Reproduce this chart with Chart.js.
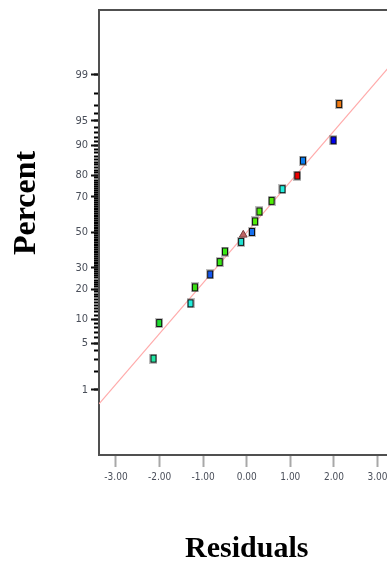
<!DOCTYPE html>
<html>
<head>
<meta charset="utf-8">
<script src="https://cdn.jsdelivr.net/npm/chart.js@4/dist/chart.umd.min.js"></script>
<style>
  html, body { margin: 0; padding: 0; background: #fff; overflow: hidden; }
  #wrap { width: 387px; height: 567px; overflow: hidden; }
</style>
</head>
<body>
<div id="wrap"><canvas id="myChart" width="400" height="567"></canvas></div>
<script>
// residuals vs normal % probability
const residuals = [-2.14, -2.01, -1.29, -1.19, -0.84, -0.62, -0.50, -0.13, -0.08, 0.12, 0.19, 0.29, 0.57, 0.82, 1.16, 1.29, 1.99, 2.12];
const percents = [3.1, 9.0, 14.7, 20.8, 26.7, 33.0, 38.8, 44.4, 48.5, 50.2, 56.4, 62.1, 67.9, 73.8, 79.9, 85.5, 91.3, 97.1];
const pointColors = ['#22e6a4', '#1edc30', '#22eedd', '#3ade14', '#1456ee', '#38e814', '#38e814', '#22e2d2', '#c06464',
  '#1670ee', '#50ee08', '#50ee08', '#50ee08', '#22eedd', '#ee0000', '#0a7cf0', '#0000ee', '#f07a12'];

// fitted normal line, its two ends
const fitResiduals = [-3.39, 3.39];
const fitPercents = [0.56, 99.44];

const xTicks = [-3, -2, -1, 0, 1, 2, 3];
const yTickLabels = [1, 5, 10, 20, 30, 50, 70, 80, 90, 95, 99];
const yMinorTicks = [];
for (let p = 1; p <= 99; p++) yMinorTicks.push(p);

// inverse normal cdf (Acklam)
const probit = (p) => {
  const a = [-39.69683028665376, 220.9460984245205, -275.9285104469687, 138.357751867269, -30.66479806614716, 2.506628277459239];
  const b = [-54.47609879822406, 161.5858368580409, -155.6989798598866, 66.80131188771972, -13.28068155288572];
  const c = [-0.007784894002430293, -0.3223964580411365, -2.400758277161838, -2.549732539343734, 4.374664141464968, 2.938163982698783];
  const d = [0.007784695709041462, 0.3224671290700398, 2.445134137142996, 3.754408661907416];
  const pl = 0.02425;
  let q, r;
  if (p < pl) {
    q = Math.sqrt(-2 * Math.log(p));
    return (((((c[0]*q+c[1])*q+c[2])*q+c[3])*q+c[4])*q+c[5]) / ((((d[0]*q+d[1])*q+d[2])*q+d[3])*q+1);
  }
  if (p <= 1 - pl) {
    q = p - 0.5; r = q * q;
    return (((((a[0]*r+a[1])*r+a[2])*r+a[3])*r+a[4])*r+a[5])*q / (((((b[0]*r+b[1])*r+b[2])*r+b[3])*r+b[4])*r+1);
  }
  q = Math.sqrt(-2 * Math.log(1 - p));
  return -(((((c[0]*q+c[1])*q+c[2])*q+c[3])*q+c[4])*q+c[5]) / ((((d[0]*q+d[1])*q+d[2])*q+d[3])*q+1);
};

// little square marker with black edge and grey halo
const makeMarker = (color) => {
  const cv = document.createElement('canvas');
  cv.width = 8; cv.height = 10;
  const g = cv.getContext('2d');
  g.fillStyle = 'rgba(110,110,110,0.45)';
  g.fillRect(0, 0, 8, 10);
  g.fillStyle = '#111';
  g.fillRect(1, 1, 6, 8);
  g.fillStyle = color;
  g.fillRect(2, 2, 4, 6);
  return cv;
};

const pointStyles = pointColors.map((c, i) => i === 8 ? 'triangle' : makeMarker(c));

const points = residuals.map((r, i) => ({ x: r, y: probit(percents[i] / 100) }));
const fitLine = fitResiduals.map((r, i) => ({ x: r, y: probit(fitPercents[i] / 100) }));

const zMax = probit(0.9995);
const tickFont = { family: "'Liberation Sans Narrow', 'DejaVu Sans Condensed', Arial", size: 11 };

const percentTitle = {
  id: 'percentTitle',
  afterDraw(chart) {
    const ctx = chart.ctx;
    ctx.save();
    ctx.translate(27, 203);
    ctx.rotate(-Math.PI / 2);
    ctx.font = "bold 32px 'Liberation Serif', 'Times New Roman', serif";
    ctx.fillStyle = '#000';
    ctx.textAlign = 'center';
    ctx.textBaseline = 'middle';
    ctx.fillText('Percent', 0, 0);
    ctx.restore();
  }
};

const config = {
  type: 'scatter',
  data: {
    datasets: [{
      data: points,
      pointStyle: pointStyles,
      pointRadius: 4.5,
      pointHoverRadius: 4.5,
      backgroundColor: pointColors,
      borderColor: pointColors.map((c, i) => i === 8 ? '#7a4040' : '#111'),
      borderWidth: 1
    }, {
      type: 'line',
      data: fitLine,
      borderColor: '#ffaaaa',
      borderWidth: 1.2,
      pointRadius: 0,
      fill: false
    }]
  },
  plugins: [percentTitle],
  options: {
    responsive: false,
    animation: false,
    events: [],
    layout: { padding: { top: 7, right: 4, bottom: 0, left: 0 } },
    plugins: { legend: { display: false }, tooltip: { enabled: false } },
    scales: {
      // minor ticks: listed first so it sits next to the plot area
      yMinor: {
        type: 'linear',
        position: 'left',
        min: -zMax,
        max: zMax,
        afterBuildTicks: (scale) => { scale.ticks = yMinorTicks.map(p => ({ value: probit(p / 100) })); },
        afterFit: (scale) => { scale.width = 0; },
        grid: { drawOnChartArea: false, drawTicks: true, tickLength: 5, tickColor: '#000', tickWidth: 2 },
        border: { display: false },
        ticks: { display: false }
      },
      x: {
        type: 'linear',
        position: 'bottom',
        min: -3.39,
        max: 3.39,
        afterBuildTicks: (scale) => { scale.ticks = xTicks.map(v => ({ value: v })); },
        afterFit: (scale) => { scale.height = 112; },
        grid: { drawOnChartArea: false, drawTicks: true, tickLength: 12, tickColor: '#a8a8a8', tickWidth: 2 },
        border: { display: true, color: '#505050', width: 2 },
        ticks: {
          padding: 4,
          maxRotation: 0,
          color: '#4a4f5a',
          font: { family: tickFont.family, size: 10 },
          callback: (v) => v.toFixed(2)
        },
        title: {
          display: true,
          text: 'Residuals',
          color: '#000',
          padding: { top: 0, bottom: 0 },
          font: { family: "'Liberation Serif', 'Times New Roman', serif", size: 30, weight: 'bold' }
        }
      },
      xTop: {
        type: 'linear',
        position: 'top',
        min: -3.39,
        max: 3.39,
        afterFit: (scale) => { scale.height = 0; },
        grid: { display: false },
        ticks: { display: false },
        border: { display: true, color: '#505050', width: 2 }
      },
      y: {
        type: 'linear',
        position: 'left',
        min: -zMax,
        max: zMax,
        afterBuildTicks: (scale) => { scale.ticks = yTickLabels.map(p => ({ value: probit(p / 100) })); },
        afterFit: (scale) => { scale.width = 99; },
        grid: { drawOnChartArea: false, drawTicks: true, tickLength: 8, tickColor: '#111', tickWidth: 2 },
        border: { display: true, color: '#505050', width: 2 },
        ticks: {
          padding: 3,
          color: '#4a4f5a',
          font: tickFont,
          callback: (v, i) => String(yTickLabels[i])
        }
      }
    }
  }
};

const myChart = new Chart(document.getElementById('myChart'), config);
</script>
</body>
</html>
